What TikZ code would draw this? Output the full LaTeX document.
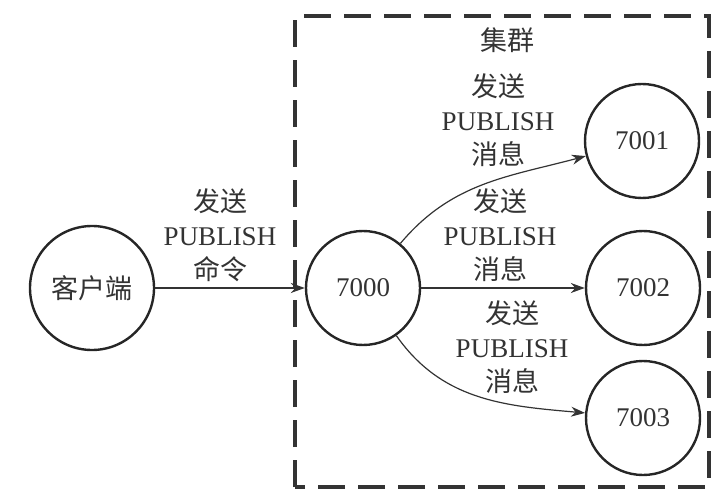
\documentclass[tikz,border=0pt]{standalone}
\usepackage{fontspec}
\setmainfont{Liberation Serif}
\newfontfamily\cjk{Noto Sans CJK SC}
\usetikzlibrary{arrows.meta}

\begin{document}
\begin{tikzpicture}[x=0.5pt, y=0.5pt,
	server/.style={circle, draw=black!85, line width=1.2pt, minimum size=57pt, inner sep=0pt, text=black!80, font=\fontsize{13.5}{17}\selectfont},
	msg/.style={align=center, inner sep=0pt, text=black!80, font=\fontsize{13.5}{17}\selectfont},
	link/.style={draw=black!80, line width=0.6pt, -{Stealth[length=7pt, width=5pt]}}]
	\useasboundingbox (0,0) rectangle (721,498);
%	cluster frame
	\draw [line width=2pt, draw=black!80, dash pattern=on 13.5pt off 6.5pt] (295,11) rectangle (709,482);
	\node [msg] (title) at (507,458) {\cjk 集群};
	\node [server, minimum size=62pt] (client) at (92,210) {\cjk 客户端};
	\node [server] (n7000) at (363,210) {7000};
	\node [server] (n7001) at (642,357) {7001};
	\node [server] (n7002) at (643,210) {7002};
	\node [server] (n7003) at (643,80) {7003};
	\draw [link] (client) -- (n7000);
	\draw [link] (n7000) to[out=50, in=195] (n7001);
	\draw [link] (n7000) -- (n7002);
	\draw [link] (n7000) to[out=-55, in=175] (n7003);
	\node [msg] (cmd) at (220,263) {{\cjk 发送}\\PUBLISH\\{\cjk 命令}};
	\node [msg] (m1) at (498,378) {{\cjk 发送}\\PUBLISH\\{\cjk 消息}};
	\node [msg] (m2) at (500,263) {{\cjk 发送}\\PUBLISH\\{\cjk 消息}};
	\node [msg] (m3) at (512,151) {{\cjk 发送}\\PUBLISH\\{\cjk 消息}};
\end{tikzpicture}
\end{document}
